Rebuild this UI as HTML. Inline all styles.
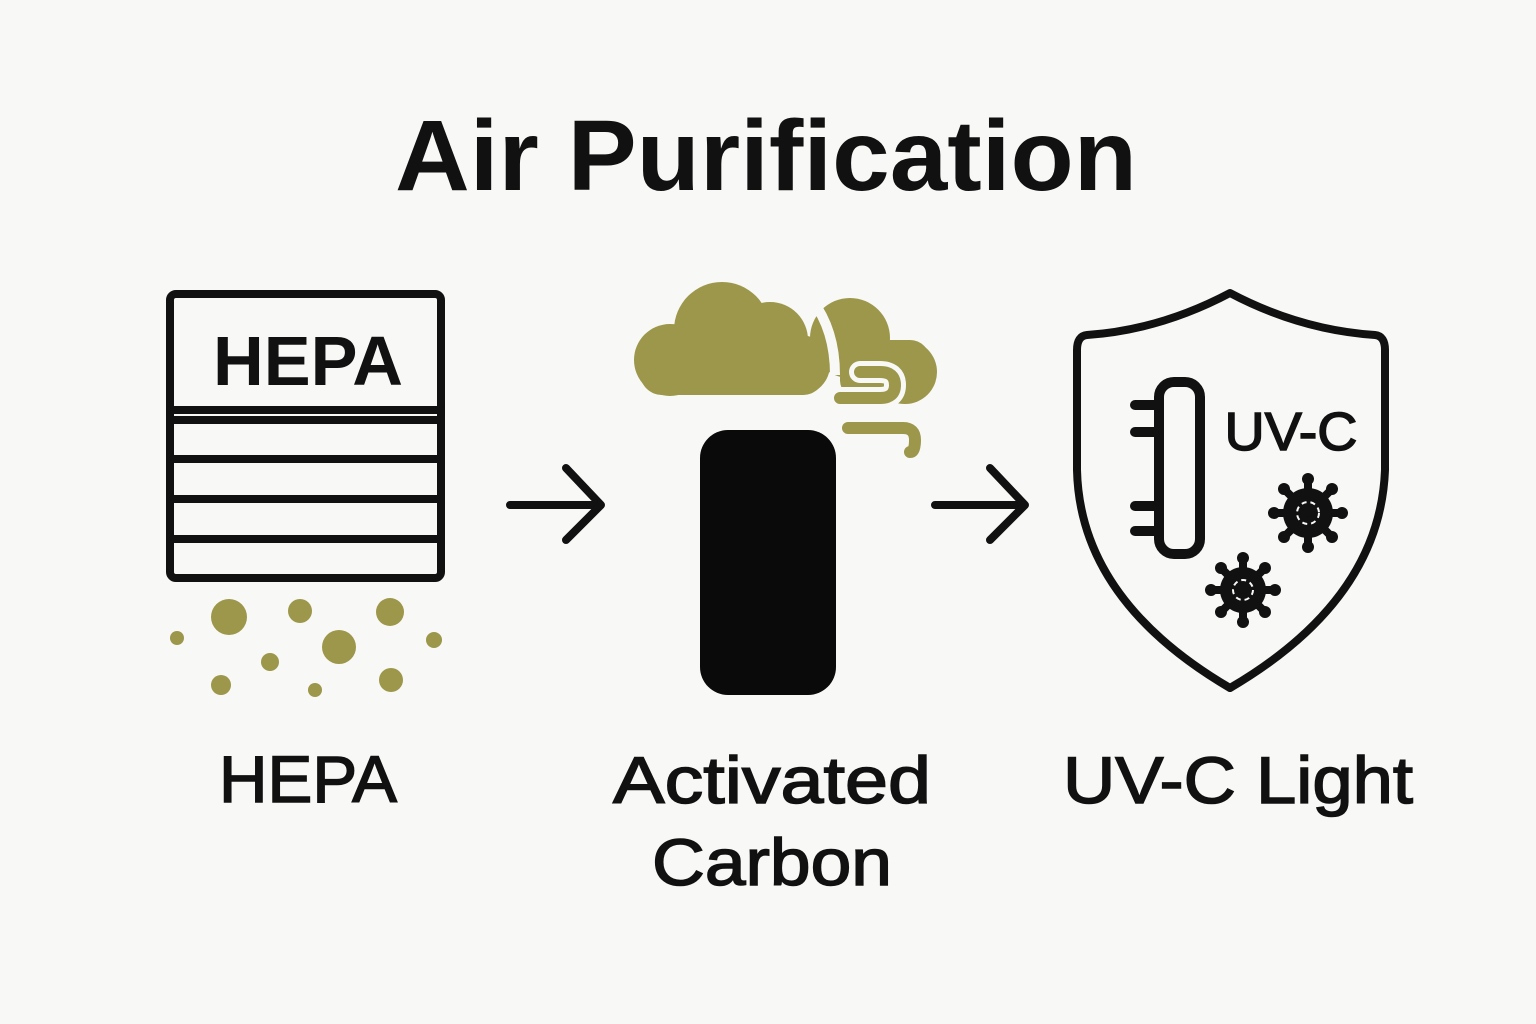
<!DOCTYPE html>
<html><head><meta charset="utf-8"><style>html,body{margin:0;padding:0;background:#f8f8f6}svg{display:block}</style></head>
<body>
<svg width="1536" height="1024" viewBox="0 0 1536 1024" xmlns="http://www.w3.org/2000/svg">
<rect width="1536" height="1024" fill="#f8f8f6"/>
<g font-family="Liberation Sans, sans-serif" fill="#111">
<text x="766" y="190" font-size="100" font-weight="bold" text-anchor="middle" textLength="742" lengthAdjust="spacingAndGlyphs">Air Purification</text>
<text x="308" y="802" font-size="66" text-anchor="middle" stroke="#111" stroke-width="1.5" textLength="178" lengthAdjust="spacingAndGlyphs">HEPA</text>
<text x="772" y="803" font-size="66" text-anchor="middle" stroke="#111" stroke-width="1.5" textLength="318" lengthAdjust="spacingAndGlyphs">Activated</text>
<text x="772" y="885" font-size="66" text-anchor="middle" stroke="#111" stroke-width="1.5" textLength="240" lengthAdjust="spacingAndGlyphs">Carbon</text>
<text x="1238" y="803" font-size="66" text-anchor="middle" stroke="#111" stroke-width="1.5" textLength="350" lengthAdjust="spacingAndGlyphs">UV-C Light</text>
<text x="308" y="385" font-size="70" font-weight="bold" text-anchor="middle" textLength="190" lengthAdjust="spacingAndGlyphs">HEPA</text>
<text x="1291" y="450" font-size="54" text-anchor="middle" stroke="#111" stroke-width="1.5" textLength="133" lengthAdjust="spacingAndGlyphs">UV-C</text>
</g>
<g fill="none" stroke="#111" stroke-width="8" stroke-linecap="round" stroke-linejoin="round">
<rect x="170" y="294" width="271" height="284" rx="6"/>
<line x1="170" y1="410" x2="441" y2="410"/>
<line x1="174" y1="420" x2="437" y2="420"/>
<line x1="174" y1="459" x2="437" y2="459"/>
<line x1="174" y1="499" x2="437" y2="499"/>
<line x1="174" y1="539" x2="437" y2="539"/>
<path d="M510,505 H600 M566,468 L601,505 L566,540"/>
<path d="M935,505 H1024 M990,468 L1025,505 L990,540"/>
<path d="M1230,293 Q1300,330 1375,335 Q1385,336 1385,350 L1385,470 Q1380,600 1230,688 Q1080,600 1077,470 L1077,350 Q1077,336 1087,335 Q1160,330 1230,293 Z"/>
<rect x="1159" y="382" width="41" height="172" rx="15" stroke-width="10"/>
<path d="M1135,405 H1157 M1135,432 H1157 M1135,506 H1157 M1135,531 H1157" stroke-width="10"/>
</g>
<rect x="700" y="430" width="136" height="265" rx="28" fill="#0a0a0a"/>
<g fill="#9c974a">
<circle cx="229" cy="617" r="18"/><circle cx="300" cy="611" r="12"/><circle cx="390" cy="612" r="14"/>
<circle cx="177" cy="638" r="7"/><circle cx="339" cy="647" r="17"/><circle cx="434" cy="640" r="8"/>
<circle cx="270" cy="662" r="9"/><circle cx="221" cy="685" r="10"/><circle cx="315" cy="690" r="7"/><circle cx="391" cy="680" r="12"/>
<circle cx="850" cy="338" r="40"/><circle cx="905" cy="372" r="32"/><rect x="840" y="340" width="90" height="60" rx="20"/>
<circle cx="670" cy="360" r="36"/><circle cx="722" cy="330" r="48"/><circle cx="770" cy="340" r="38"/><circle cx="800" cy="365" r="30"/>
<rect x="640" y="350" width="185" height="45" rx="22"/>
</g>
<path d="M812,300 Q835,330 835,375" stroke="#f8f8f6" stroke-width="10" fill="none"/>
<g fill="none" stroke-linecap="round">
<path d="M860,372 H880 Q895,372 895,385 Q895,398 880,398 H840" stroke="#f8f8f6" stroke-width="22"/>
<path d="M860,372 H880 Q895,372 895,385 Q895,398 880,398 H840" stroke="#9c974a" stroke-width="12"/>
<path d="M848,428 H903 Q915,428 915,440 Q915,452 910,452" stroke="#9c974a" stroke-width="12"/>
</g>
<g fill="#111">
<g transform="translate(1308,513)">
<circle r="25"/>
<g stroke="#111" stroke-width="8" stroke-linecap="round">
<line x1="0" y1="0" x2="0" y2="-33"/><line x1="0" y1="0" x2="24" y2="-24"/><line x1="0" y1="0" x2="33" y2="0"/><line x1="0" y1="0" x2="24" y2="24"/>
<line x1="0" y1="0" x2="0" y2="33"/><line x1="0" y1="0" x2="-24" y2="24"/><line x1="0" y1="0" x2="-33" y2="0"/><line x1="0" y1="0" x2="-24" y2="-24"/>
</g>
<circle cx="0" cy="-34" r="6"/><circle cx="24" cy="-24" r="6"/><circle cx="34" cy="0" r="6"/><circle cx="24" cy="24" r="6"/>
<circle cx="0" cy="34" r="6"/><circle cx="-24" cy="24" r="6"/><circle cx="-34" cy="0" r="6"/><circle cx="-24" cy="-24" r="6"/>
<circle r="11" fill="none" stroke="#f8f8f6" stroke-width="2" stroke-dasharray="5 4"/>
</g>
<g transform="translate(1243,590)">
<circle r="23"/>
<g stroke="#111" stroke-width="8" stroke-linecap="round">
<line x1="0" y1="0" x2="0" y2="-31"/><line x1="0" y1="0" x2="22" y2="-22"/><line x1="0" y1="0" x2="31" y2="0"/><line x1="0" y1="0" x2="22" y2="22"/>
<line x1="0" y1="0" x2="0" y2="31"/><line x1="0" y1="0" x2="-22" y2="22"/><line x1="0" y1="0" x2="-31" y2="0"/><line x1="0" y1="0" x2="-22" y2="-22"/>
</g>
<circle cx="0" cy="-32" r="6"/><circle cx="22" cy="-22" r="6"/><circle cx="32" cy="0" r="6"/><circle cx="22" cy="22" r="6"/>
<circle cx="0" cy="32" r="6"/><circle cx="-22" cy="22" r="6"/><circle cx="-32" cy="0" r="6"/><circle cx="-22" cy="-22" r="6"/>
<circle r="10" fill="none" stroke="#f8f8f6" stroke-width="2" stroke-dasharray="5 4"/>
</g>
</g>
</svg>
</body></html>
